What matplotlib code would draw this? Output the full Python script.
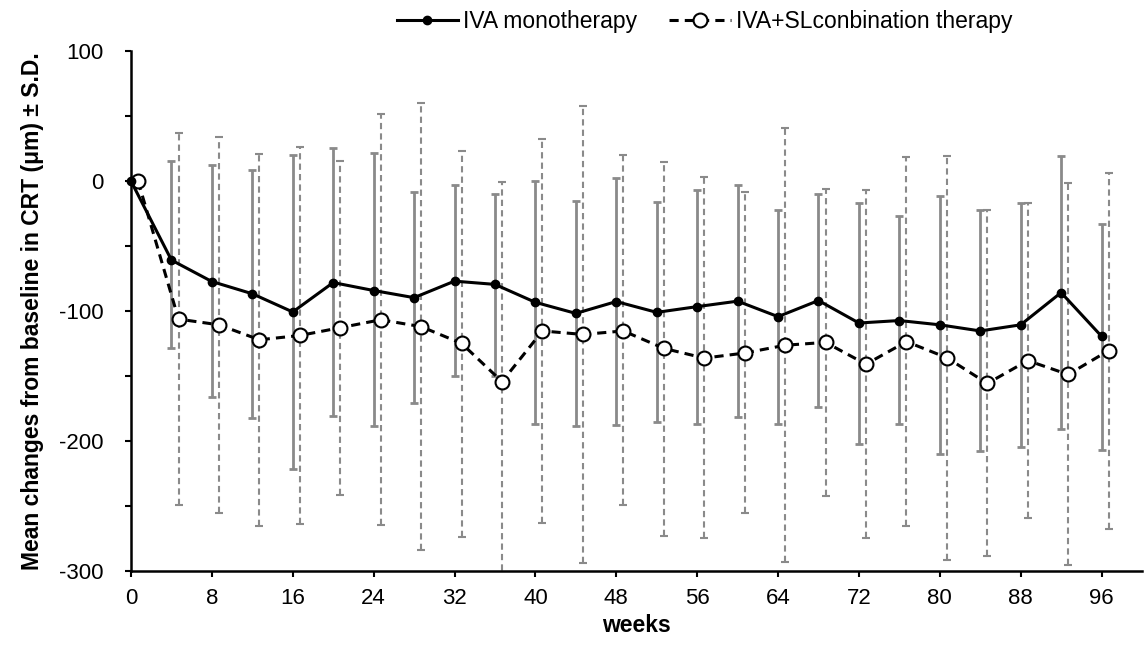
import matplotlib
matplotlib.use("Agg")
import matplotlib.pyplot as plt
import numpy as np

plt.rcParams['font.family'] = ['Liberation Sans', 'DejaVu Sans']
plt.rcParams['axes.unicode_minus'] = False

# weeks of visit
weeks = [0, 4, 8, 12, 16, 20, 24, 28, 32, 36, 40, 44, 48,
         52, 56, 60, 64, 68, 72, 76, 80, 84, 88, 92, 96]

# IVA monotherapy: mean and ends of the S.D. bars
mono_mean = [0, -60.8, -77.3, -86.7, -100.7, -78.1, -84.2, -89.7, -77.0, -79.5, -93.3, -101.8, -92.7,
             -101.0, -96.6, -92.4, -104.3, -91.9, -109.2, -107.3, -110.6, -115.3, -110.6, -85.8, -119.4]
mono_top = [0, 15.4, 12.1, 8.8, 20.4, 25.6, 21.5, -8.8, -3.3, -9.9, 0.0, -15.4, 2.2,
            -16.5, -6.6, -3.0, -22.0, -10.2, -17.1, -27.2, -11.3, -22.6, -16.8, 19.5, -32.7]
mono_bottom = [0, -128.2, -166.2, -182.1, -221.5, -180.7, -188.7, -170.6, -149.7, -149.7, -186.8, -188.2, -187.6,
               -185.4, -187.1, -181.8, -186.8, -173.9, -201.9, -186.8, -210.2, -208.0, -204.7, -190.9, -206.6]

# IVA + SL combination therapy
combo_mean = [0, -106.2, -110.6, -122.1, -118.8, -112.8, -106.7, -112.0, -124.9, -154.3, -115.3, -118.0, -115.3,
              -128.7, -136.2, -132.3, -126.3, -124.1, -140.9, -123.5, -135.9, -155.7, -138.1, -148.8, -130.4]
combo_top = [0, 36.6, 34.1, 20.9, 26.4, 15.4, 51.2, 60.0, 23.1, -0.6, 32.5, 58.0, 20.1,
             14.9, 2.8, -8.8, 40.7, -6.1, -7.2, 18.2, 19.3, -22.6, -17.1, -1.7, 6.3]
combo_bottom = [0, -249.0, -255.6, -265.2, -263.8, -241.3, -264.6, -283.9, -273.5, -308.0, -263.0, -293.5, -249.5,
                -272.9, -274.8, -255.6, -292.7, -242.4, -274.8, -265.2, -291.6, -288.6, -259.1, -295.5, -267.4]

x1 = np.array(weeks, dtype=float)
x2 = x1 + 0.7  # combination points are drawn slightly to the right

m1 = np.array(mono_mean)
m2 = np.array(combo_mean)
err1 = [m1 - np.array(mono_bottom), np.array(mono_top) - m1]
err2 = [m2 - np.array(combo_bottom), np.array(combo_top) - m2]

fig = plt.figure(figsize=(11.46, 6.46), dpi=100)
ax = fig.add_axes([0.1143, 0.116, 0.8822, 0.805])

grey = '#8a8a8a'
eb1 = ax.errorbar(x1[1:], m1[1:], yerr=[e[1:] for e in err1], fmt='none', ecolor=grey,
                  elinewidth=2, capsize=3, capthick=2, zorder=2)
eb2 = ax.errorbar(x2[1:], m2[1:], yerr=[e[1:] for e in err2], fmt='none', ecolor=grey,
                  elinewidth=1.5, capsize=3, capthick=1.5, zorder=2)
eb2[2][0].set_linestyle((0, (3, 2)))

ax.plot(x1, m1, color='black', lw=2.2, marker='o', ms=6, mfc='black', mec='black',
        label='IVA monotherapy', zorder=4, clip_on=False)
ax.plot(x2, m2, color='black', lw=2.2, ls=(0, (3, 2)), marker='o', ms=10, mfc='white',
        mec='black', mew=1.5, label='IVA+SLconbination therapy', zorder=3, clip_on=False)

ax.set_xlim(0, 100)
ax.set_ylim(-300, 100)
ax.set_xticks(range(0, 97, 8))
ax.set_yticks(range(-300, 101, 100))
ax.set_yticks(range(-250, 100, 100), minor=True)

for s in ['top', 'right']:
    ax.spines[s].set_visible(False)
for s in ['left', 'bottom']:
    ax.spines[s].set_linewidth(1.8)
ax.tick_params(axis='both', which='both', direction='out', length=4.5, width=1.5, labelsize=16)
ax.tick_params(axis='y', which='major', pad=15)
ax.tick_params(axis='x', which='major', pad=8)

ax.set_xlabel('weeks', fontsize=16.5, fontweight='bold', labelpad=3)
ax.set_ylabel('Mean changes from baseline in CRT (μm) ± S.D.', fontsize=16.5, fontweight='bold', labelpad=11)

fig.legend(loc='center', bbox_to_anchor=(0.6146, 0.9666), ncol=2, frameon=False, fontsize=16.5,
           handlelength=2.7, handletextpad=0.2, columnspacing=1.4)

fig.savefig('out.png', dpi=100)
